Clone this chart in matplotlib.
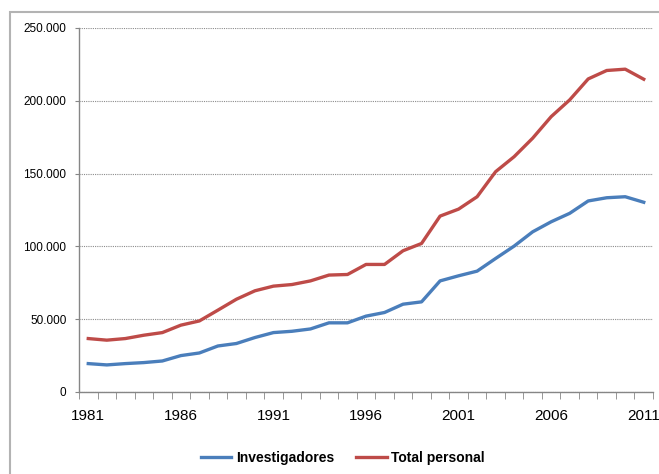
import matplotlib.pyplot as plt
from matplotlib.patches import Rectangle
from matplotlib.ticker import FuncFormatter, MultipleLocator

plt.rcParams['font.family'] = ['Liberation Sans', 'DejaVu Sans']

years = list(range(1981, 2012))
investigadores = [19500, 18600, 19500, 20200, 21300, 25000, 26800, 31600, 33300, 37400,
                  40800, 41700, 43300, 47500, 47500, 52100, 54600, 60300, 61900, 76300,
                  79800, 83000, 91700, 100200, 110000, 116900, 122700, 131200, 133400, 134100,
                  130300]
total_personal = [36700, 35600, 36700, 39000, 40800, 45900, 48800, 56200, 63700, 69500,
                  72700, 73800, 76300, 80300, 80700, 87600, 87600, 97000, 102000, 120800,
                  125600, 134100, 151300, 161600, 174300, 189100, 200600, 215000, 220800, 221700,
                  214800]

fig = plt.figure(figsize=(6.59, 4.74), dpi=100)
ax = fig.add_axes([0.1199, 0.173, 0.871, 0.768])

# outer chart frame (clipped on the right and bottom like the reference)
fig.patches.append(Rectangle((10 / 659, -0.2), 1.2, 1.2 - 12 / 474,
                             transform=fig.transFigure, fill=False,
                             edgecolor='#b3b3b3', linewidth=1.5))

ax.plot(years, investigadores, color='#4a7ebb', linewidth=2.4, label='Investigadores')
ax.plot(years, total_personal, color='#be4b48', linewidth=2.4, label='Total personal')

ax.set_xlim(1980.5, 2011.5)
ax.set_ylim(0, 250000)
ax.yaxis.set_major_locator(MultipleLocator(50000))
ax.yaxis.set_major_formatter(FuncFormatter(lambda v, p: f'{int(v):,}'.replace(',', '.')))
ax.set_xticks(years[::5])
ax.set_xticks([y - 0.5 for y in years] + [2011.5], minor=True)

ax.grid(axis='y', linestyle=(0, (1, 1)), color='#8c8c8c', linewidth=0.8)
ax.set_axisbelow(True)
for s in ['top', 'right']:
    ax.spines[s].set_visible(False)
for s in ['left', 'bottom']:
    ax.spines[s].set_color('#868686')
    ax.spines[s].set_linewidth(1.0)

ax.tick_params(axis='y', length=3, color='#868686', labelsize=8.5, pad=6)
ax.tick_params(axis='x', which='major', length=0, labelsize=11, pad=12)
ax.tick_params(axis='x', which='minor', length=5, color='#868686')

fig.legend(loc='center', bbox_to_anchor=(0.52, 0.034), ncol=2, frameon=False,
           handlelength=2.2, columnspacing=1.6, handletextpad=0.3,
           prop={'weight': 'bold', 'size': 10})

fig.savefig('out.png', dpi=100)
